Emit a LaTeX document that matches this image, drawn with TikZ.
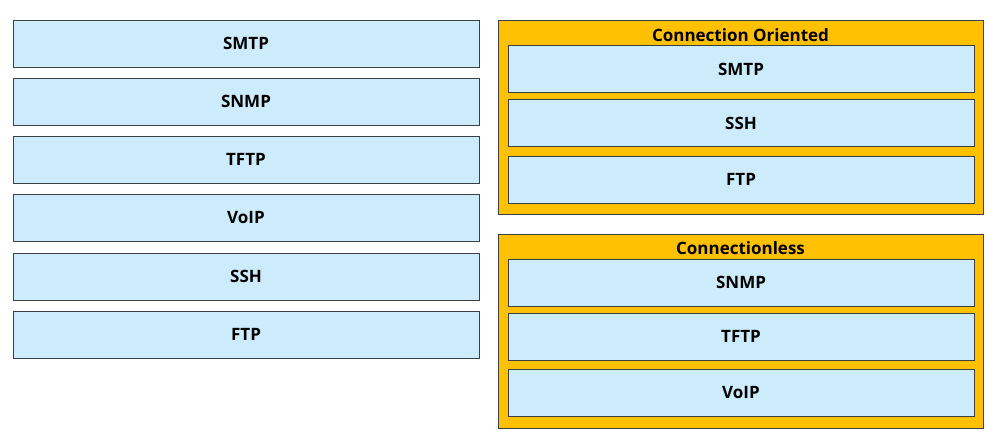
\documentclass[tikz,border=0pt]{standalone}
\usepackage{fontspec}
\setmainfont{Open Sans}
\definecolor{boxblue}{RGB}{204,235,251}
\definecolor{boxedge}{RGB}{60,64,70}
\definecolor{gold}{RGB}{255,192,0}
\tikzset{
  item/.style={draw=boxedge, line width=1pt, fill=boxblue, rectangle,
    minimum width=466pt, minimum height=47pt, inner sep=0pt,
    font=\bfseries\fontsize{17}{20}\selectfont},
  group/.style={draw=boxedge, line width=1pt, fill=gold, rectangle,
    minimum width=485pt, minimum height=194pt, inner sep=0pt},
  grouptitle/.style={font=\bfseries\fontsize{17}{20}\selectfont, inner sep=0pt}
}
\begin{document}
\begin{tikzpicture}[x=1pt,y=-1pt]
\useasboundingbox (0,0) rectangle (1000,447);
\fill[white] (0,0) rectangle (1000,447);
% left column
\foreach \n/\t/\yc in {l1/SMTP/43.5, l2/SNMP/101.5, l3/TFTP/159.5, l4/VoIP/217.5, l5/SSH/276.5, l6/FTP/334.5}{
  \node[item] (\n) at (246,\yc) {\t};
}
% right top group
\node[group] (g1) at (740.5,117) {};
\node[grouptitle] (t1) at (740.5,35) {Connection Oriented};
\node[item] (r1) at (741,69) {SMTP};
\node[item] (r2) at (741,123) {SSH};
\node[item] (r3) at (741,179.5) {FTP};
% right bottom group
\node[group] (g2) at (740.5,331) {};
\node[grouptitle] (t2) at (740.5,248) {Connectionless};
\node[item] (s1) at (741,282.5) {SNMP};
\node[item] (s2) at (741,336.5) {TFTP};
\node[item] (s3) at (741,393) {VoIP};
\end{tikzpicture}
\end{document}
